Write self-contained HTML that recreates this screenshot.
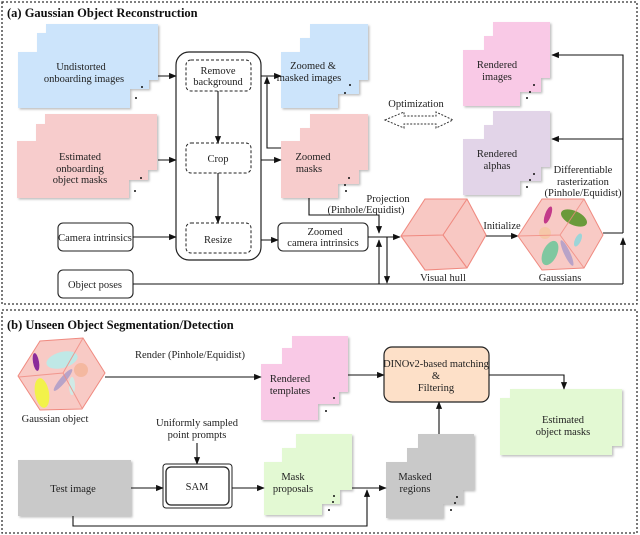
<!DOCTYPE html>
<html><head><meta charset="utf-8"><style>
html,body{margin:0;padding:0;background:#fff;width:640px;height:535px;overflow:hidden}
text{font-family:"Liberation Serif",serif;font-size:10.5px;fill:#222}
.t{font-weight:bold;font-size:12.5px;fill:#111}
</style></head><body>
<svg width="640" height="535" viewBox="0 0 640 535" xmlns="http://www.w3.org/2000/svg">
<defs>
<marker id="a" viewBox="0 0 10 10" refX="9" refY="5" markerWidth="7" markerHeight="7" orient="auto-start-reverse"><path d="M0,1 L10,5 L0,9 z" fill="#111"/></marker>
<filter id="s" x="-10%" y="-10%" width="130%" height="130%"><feDropShadow dx="1.5" dy="1.5" stdDeviation="1" flood-color="#000" flood-opacity="0.25"/></filter>
</defs>
<rect x="2" y="2" width="635" height="302" fill="none" stroke="#333" stroke-dasharray="2,2" stroke-width="1.3"/>
<rect x="2" y="310" width="635" height="223" fill="none" stroke="#333" stroke-dasharray="2,2" stroke-width="1.3"/>
<text x="7" y="17" class="t">(a) Gaussian Object Reconstruction</text>
<text x="7" y="329" class="t">(b) Unseen Object Segmentation/Detection</text>

<g filter="url(#s)">
<rect x="46" y="24" width="112" height="56" fill="#cce4fb"/>
<rect x="37" y="33" width="112" height="56" fill="#cce4fb"/>
<rect x="18" y="52" width="112" height="56" fill="#cce4fb"/>
<rect x="45" y="114" width="112" height="56" fill="#f7cccc"/>
<rect x="36" y="124" width="112" height="56" fill="#f7cccc"/>
<rect x="17" y="141" width="112" height="57" fill="#f7cccc"/>
<rect x="310" y="24" width="58" height="56" fill="#cce4fb"/>
<rect x="300" y="38" width="59" height="56" fill="#cce4fb"/>
<rect x="281" y="52" width="57" height="56" fill="#cce4fb"/>
<rect x="310" y="114" width="58" height="56" fill="#f7cccc"/>
<rect x="300" y="128" width="59" height="56" fill="#f7cccc"/>
<rect x="281" y="141" width="57" height="57" fill="#f7cccc"/>
<rect x="493" y="22" width="57" height="56" fill="#f9c9e6"/>
<rect x="484" y="36" width="57" height="56" fill="#f9c9e6"/>
<rect x="463" y="50" width="57" height="56" fill="#f9c9e6"/>
<rect x="493" y="111" width="57" height="56" fill="#e2d4e8"/>
<rect x="484" y="125" width="57" height="56" fill="#e2d4e8"/>
<rect x="463" y="139" width="57" height="56" fill="#e2d4e8"/>
<rect x="292" y="336" width="56" height="56" fill="#f9c9e6"/>
<rect x="282" y="348" width="57" height="56" fill="#f9c9e6"/>
<rect x="261" y="364" width="57" height="56" fill="#f9c9e6"/>
<rect x="510" y="389" width="112" height="57" fill="#e3f9d3"/>
<rect x="500" y="398" width="112" height="57" fill="#e3f9d3"/>
<rect x="18" y="460" width="113" height="56" fill="#c9c9c9"/>
<rect x="296" y="434" width="56" height="56" fill="#e3f9d3"/>
<rect x="282" y="448" width="58" height="56" fill="#e3f9d3"/>
<rect x="264" y="462" width="58" height="53" fill="#e3f9d3"/>
<rect x="418" y="434" width="56" height="56" fill="#c9c9c9"/>
<rect x="407" y="448" width="56" height="56" fill="#c9c9c9"/>
<rect x="386" y="462" width="57" height="56" fill="#c9c9c9"/>
</g>
<g fill="#111">
<circle cx="142" cy="87" r="1"/><circle cx="136" cy="98" r="1"/>
<circle cx="141" cy="178" r="1"/><circle cx="135" cy="191" r="1"/>
<circle cx="350" cy="85" r="1"/><circle cx="345" cy="93" r="1"/>
<circle cx="349" cy="178" r="1"/><circle cx="345" cy="185" r="1"/><circle cx="346" cy="191" r="1"/>
<circle cx="534" cy="85" r="1"/><circle cx="530" cy="92" r="1"/><circle cx="527" cy="98" r="1"/>
<circle cx="534" cy="174" r="1"/><circle cx="530" cy="180" r="1"/><circle cx="527" cy="187" r="1"/>
<circle cx="334" cy="398" r="1"/><circle cx="326" cy="411" r="1"/>
<circle cx="334" cy="496" r="1"/><circle cx="333" cy="502" r="1"/><circle cx="329" cy="510" r="1"/>
<circle cx="457" cy="497" r="1"/><circle cx="455" cy="503" r="1"/><circle cx="451" cy="510" r="1"/>
</g>
<g text-anchor="middle">
<text x="81" y="70">Undistorted</text><text x="84" y="82">onboarding images</text>
<text x="80" y="160">Estimated</text><text x="80" y="172">onboarding</text><text x="80" y="183">object masks</text>
<text x="313" y="69">Zoomed &amp;</text><text x="309" y="81">masked images</text>
<text x="313" y="160">Zoomed</text><text x="309" y="172">masks</text>
<text x="497" y="68">Rendered</text><text x="497" y="80">images</text>
<text x="497" y="157">Rendered</text><text x="497" y="169">alphas</text>
<text x="290" y="382">Rendered</text><text x="290" y="394">templates</text>
<text x="563" y="423">Estimated</text><text x="563" y="435">object masks</text>
<text x="73" y="492">Test image</text>
<text x="293" y="480">Mask</text><text x="293" y="492">proposals</text>
<text x="415" y="480">Masked</text><text x="415" y="492">regions</text>
</g>

<rect x="176" y="52" width="85" height="208" rx="13" fill="#fff" stroke="#222" stroke-width="1.2"/>
<g fill="#fff" stroke="#222" stroke-dasharray="3,2">
<rect x="186" y="60" width="65" height="31" rx="5"/>
<rect x="186" y="143" width="65" height="30" rx="5"/>
<rect x="186" y="223" width="65" height="30" rx="5"/>
</g>
<g text-anchor="middle">
<text x="218" y="74">Remove</text><text x="218" y="85">background</text>
<text x="218" y="162">Crop</text>
<text x="218" y="243">Resize</text>
</g>
<g fill="#fff" stroke="#222" stroke-width="1.1">
<rect x="58" y="223" width="75" height="28" rx="5"/>
<rect x="58" y="270" width="75" height="28" rx="5"/>
<rect x="278" y="223" width="90" height="28" rx="5"/>
</g>
<g text-anchor="middle">
<text x="95" y="241">Camera intrinsics</text>
<text x="95" y="288">Object poses</text>
<text x="325" y="235">Zoomed</text><text x="323" y="246">camera intrinsics</text>
</g>

<g stroke="#111" stroke-width="1.1" fill="none" marker-end="url(#a)">
<line x1="158" y1="76" x2="176" y2="76"/>
<line x1="158" y1="160" x2="176" y2="160"/>
<line x1="133" y1="237" x2="176" y2="237"/>
<line x1="218" y1="91" x2="218" y2="143"/>
<line x1="218" y1="173" x2="218" y2="223"/>
<line x1="261" y1="76" x2="281" y2="76"/>
<line x1="261" y1="160" x2="281" y2="160"/>
<line x1="261" y1="240" x2="278" y2="240"/>
<polyline points="281,148 267,148 267,77"/>
<polyline points="309,198 309,215 379,215 379,233"/>
<line x1="379" y1="284" x2="379" y2="240"/>
<line x1="387" y1="237" x2="387" y2="283"/>
<line x1="368" y1="237" x2="400" y2="237"/>
<line x1="486" y1="236" x2="518" y2="236"/>
<line x1="623" y1="284" x2="623" y2="238"/>
<polyline points="623,233 623,55 552,55"/>
<line x1="623" y1="139" x2="552" y2="139"/>
</g>
<g stroke="#111" stroke-width="1.1" fill="none">
<line x1="133" y1="284" x2="623" y2="284"/>
<line x1="603" y1="233" x2="623" y2="233"/>
</g>
<text x="388" y="202" text-anchor="middle">Projection</text>
<text x="366" y="213" text-anchor="middle">(Pinhole/Equidist)</text>
<text x="502" y="229" text-anchor="middle">Initialize</text>
<text x="583" y="173" text-anchor="middle">Differentiable</text>
<text x="583" y="185" text-anchor="middle">rasterization</text>
<text x="583" y="196" text-anchor="middle">(Pinhole/Equidist)</text>
<text x="416" y="107" text-anchor="middle">Optimization</text>
<path d="M385,120 L404,112 L404,116 L436,116 L436,112 L453,120 L436,128 L436,124 L404,124 L404,128 z" fill="#fff" stroke="#333" stroke-dasharray="2,1.5"/>

<g stroke="#f08a80" stroke-width="1.1" fill="#f8c8c3">
<polygon points="401,236 425,199 467,199 486,235 467,268 425,270"/>
<polyline points="467,199 443,235 401,236" fill="none"/>
<line x1="443" y1="235" x2="467" y2="268"/>
</g>
<text x="443" y="281" text-anchor="middle">Visual hull</text>
<g>
<polygon points="518,236 542,199 584,199 603,235 584,268 542,270" fill="#f8cac5" stroke="#f08a80"/>
<ellipse cx="574" cy="218" rx="14" ry="7" transform="rotate(25 574 218)" fill="#6a9a3a"/>
<ellipse cx="548" cy="215" rx="3" ry="9" transform="rotate(20 548 215)" fill="#c33a8a"/>
<ellipse cx="545" cy="233" rx="6" ry="6" fill="#f6c7a8"/>
<ellipse cx="550" cy="253" rx="7" ry="13" transform="rotate(25 550 253)" fill="#7fc7a0"/>
<ellipse cx="567" cy="253" rx="3" ry="14" transform="rotate(-25 567 253)" fill="#b9a3c8"/>
<ellipse cx="578" cy="240" rx="3" ry="7" transform="rotate(25 578 240)" fill="#9cd5d8"/>
<g stroke="#f08a80" fill="none" opacity="0.8"><polyline points="584,199 560,235 518,236"/><line x1="560" y1="235" x2="584" y2="268"/></g>
</g>
<text x="560" y="281" text-anchor="middle">Gaussians</text>

<g>
<polygon points="18,376 40,341 83,338 105,373 82,409 40,410" fill="#f8cac5" stroke="#f08a80"/>
<ellipse cx="62" cy="360" rx="16" ry="8" transform="rotate(-15 62 360)" fill="#bfe8e6"/>
<ellipse cx="36" cy="362" rx="3" ry="9" transform="rotate(-10 36 362)" fill="#8a2c9a"/>
<ellipse cx="81" cy="370" rx="7" ry="7" fill="#f4b8a0"/>
<ellipse cx="42" cy="393" rx="7" ry="15" transform="rotate(-10 42 393)" fill="#f2f24a"/>
<ellipse cx="63" cy="380" rx="3" ry="14" transform="rotate(40 63 380)" fill="#b7a3c8"/>
<ellipse cx="72" cy="386" rx="3" ry="9" fill="#cfeae6"/>
<g stroke="#f08a80" fill="none" opacity="0.8"><polyline points="83,338 63,373 19,377"/><line x1="63" y1="373" x2="82" y2="408"/></g>
</g>
<text x="55" y="422" text-anchor="middle">Gaussian object</text>
<text x="190" y="358" text-anchor="middle">Render (Pinhole/Equidist)</text>

<rect x="384" y="347" width="105" height="55" rx="8" fill="#fde0c8" stroke="#222" stroke-width="1.2"/>
<text x="436" y="367" text-anchor="middle">DINOv2-based  matching</text>
<text x="436" y="379" text-anchor="middle">&amp;</text>
<text x="436" y="391" text-anchor="middle">Filtering</text>

<rect x="163" y="464" width="69" height="44" rx="3" fill="#fff" stroke="#222" stroke-width="1"/>
<rect x="166" y="467" width="63" height="38" rx="5" fill="#fff" stroke="#222" stroke-width="1.3"/>
<text x="197" y="490" text-anchor="middle">SAM</text>
<text x="197" y="426" text-anchor="middle">Uniformly sampled</text>
<text x="197" y="438" text-anchor="middle">point prompts</text>

<g stroke="#111" stroke-width="1.1" fill="none" marker-end="url(#a)">
<line x1="105" y1="377" x2="261" y2="377"/>
<line x1="348" y1="375" x2="384" y2="375"/>
<polyline points="489,375 564,375 564,389"/>
<line x1="197" y1="443" x2="197" y2="464"/>
<line x1="131" y1="488" x2="163" y2="488"/>
<line x1="232" y1="488" x2="264" y2="488"/>
<line x1="352" y1="488" x2="386" y2="488"/>
<polyline points="73,516 73,526 367,526 367,490"/>
<line x1="439" y1="434" x2="439" y2="402"/>
</g>
</svg>
</body></html>
